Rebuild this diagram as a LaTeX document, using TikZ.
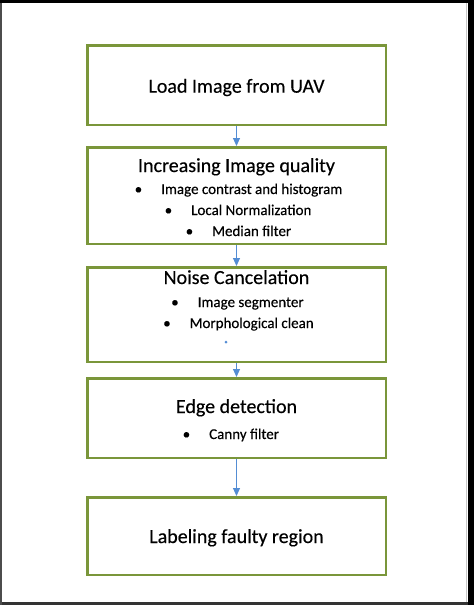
\documentclass[tikz,border=0pt]{standalone}
\usepackage{fontspec}
\setmainfont{Carlito}[FakeBold=0.3]
\usetikzlibrary{arrows.meta}
\definecolor{boxgreen}{RGB}{122,150,58}
\definecolor{arrowblue}{RGB}{84,141,212}
\newcommand{\bul}{\makebox[0pt][r]{•\hspace{19pt}}}
\tikzset{
  stepbox/.style={draw=boxgreen, line width=2.5pt, minimum width=298.5pt, inner sep=0pt},
  ttl/.style={anchor=base, inner sep=0pt, font=\fontsize{20}{24}\selectfont},
  itm/.style={anchor=base west, inner sep=0pt, font=\fontsize{15}{18}\selectfont},
  flow/.style={draw=arrowblue, line width=1pt, -{Triangle[width=7pt,length=8pt]}}
}
\begin{document}
\begin{tikzpicture}[x=1pt,y=-1pt]
\useasboundingbox (0,0) rectangle (474,605);
% outer frame
\fill[black] (0,0) rectangle (474,605);
\fill[white] (2,2.5) rectangle (467.5,602);
\fill[black!70] (0,2.5) rectangle (2,605);
\fill[black!80] (2,602) rectangle (467.5,605);
\fill[black!22] (465.5,2.5) rectangle (466.8,602);
% boxes
\node[stepbox, minimum height=79.5pt] (b1) at (236.5,85) {};
\node[stepbox, minimum height=96.5pt] (b2) at (236.5,195.5) {};
\node[stepbox, minimum height=94.5pt] (b3) at (236.5,314.5) {};
\node[stepbox, minimum height=79.5pt] (b4) at (236.5,418) {};
\node[stepbox, minimum height=77.5pt] (b5) at (236.5,536) {};
% texts
\node[ttl] (t1) at (236.5,92.7) {Load Image from UAV};
\node[ttl] (t2) at (236.5,172) {Increasing Image quality};
\node[itm] (i21) at (161,194) {\bul Image contrast and histogram};
\node[itm] (i22) at (191,215) {\bul Local Normalization};
\node[itm] (i23) at (212,236) {\bul Median filter};
\node[ttl] (t3) at (236.5,284) {Noise Cancelation};
\node[itm] (i31) at (197.5,307) {\bul Image segmenter};
\node[itm] (i32) at (189.5,328) {\bul Morphological clean};
\node[circle, fill=arrowblue, inner sep=0pt, minimum size=3pt] (dot) at (226,342) {};
\node[ttl] (t4) at (236.5,413) {Edge detection};
\node[itm] (i41) at (209,439) {\bul Canny filter};
\node[ttl] (t5) at (236.5,543) {Labeling faulty region};
% arrows
\draw[flow] (b1.south) -- (b2.north);
\draw[flow] (b2.south) -- (b3.north);
\draw[flow] (b3.south) -- (b4.north);
\draw[flow] (b4.south) -- (b5.north);
\end{tikzpicture}
\end{document}
